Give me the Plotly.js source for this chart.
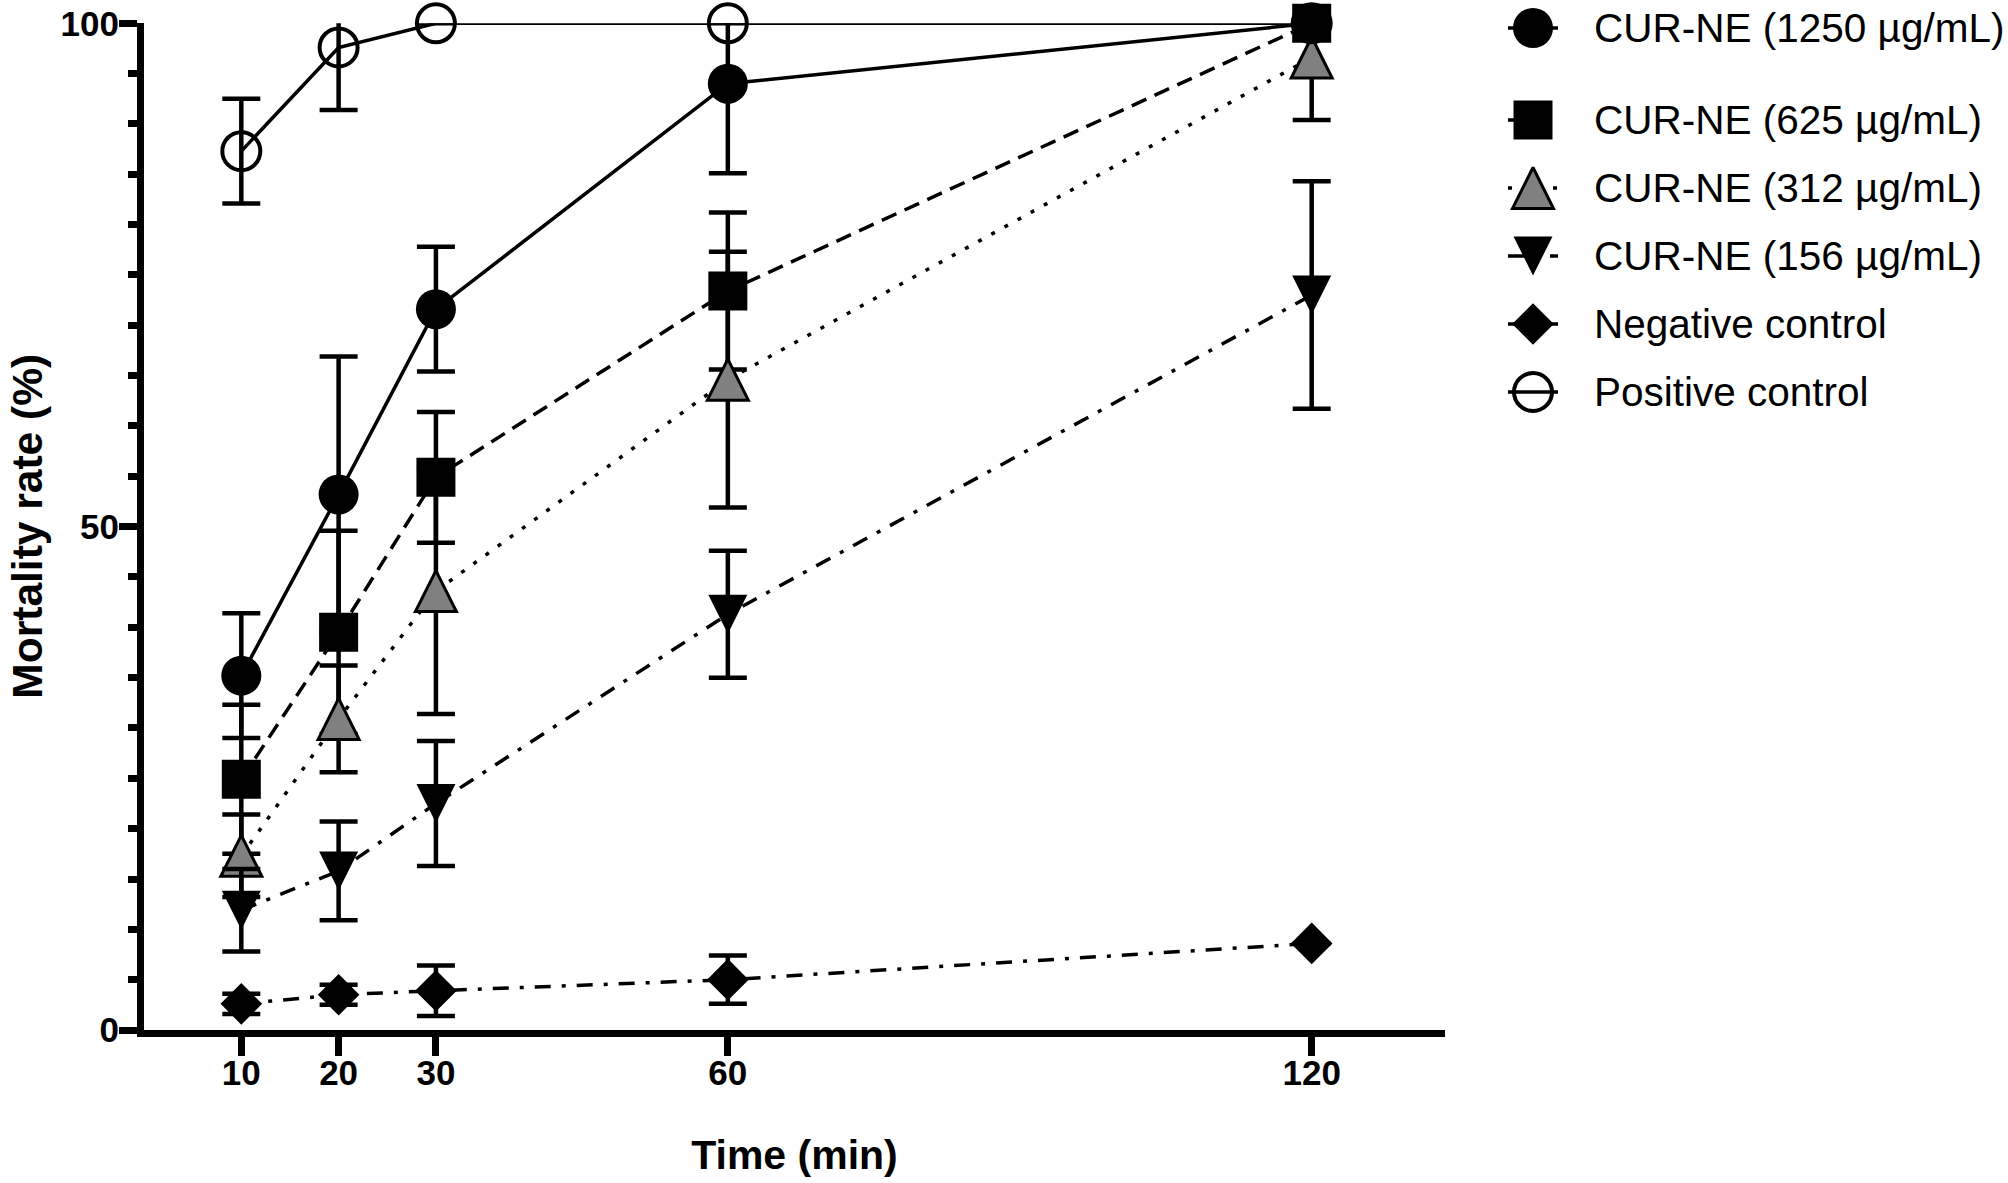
<!DOCTYPE html>
<html>
<head>
<meta charset="utf-8">
<script src="https://cdn.plot.ly/plotly-3.0.1.min.js"></script>
<style>
html, body { margin: 0; padding: 0; background: #ffffff; }
#chart { width: 2008px; height: 1183px; }
</style>
</head>
<body>
<div id="chart"></div>
<script>
// ---------------- data ----------------
const times = [10, 20, 30, 60, 120];
const timeTickLabels = ['10', '20', '30', '60', '120'];
const yTickValues = [0, 50, 100];

const xTitle = 'Time (min)';
const yTitle = 'Mortality rate (%)';

const seriesNames = [
  'CUR-NE (1250 µg/mL)',
  'CUR-NE (625 µg/mL)',
  'CUR-NE (312 µg/mL)',
  'CUR-NE (156 µg/mL)',
  'Negative control',
  'Positive control'
];

const cur1250Mean = [35.2, 53.2, 71.6, 94.0, 100];
const cur1250Sd   = [6.2, 13.7, 6.2, 8.9, null];
const cur625Mean  = [24.9, 39.5, 54.9, 73.4, 100];
const cur625Sd    = [7.4, 10.1, 6.5, 7.8, null];
const cur312Mean  = [17.3, 30.9, 43.6, 64.6, 96.6];
const cur312Sd    = [4.1, 5.3, 12.2, 12.7, 6.2];
const cur156Mean  = [11.9, 15.8, 22.5, 41.3, 73.0];
const cur156Sd    = [4.1, 4.9, 6.2, 6.3, 11.3];
const negMean     = [2.6, 3.5, 3.9, 5.0, 8.6];
const negSd       = [1.0, 1.0, 2.5, 2.4, null];
const posMean     = [87.3, 97.6, 100, 100, 100];
const posSd       = [5.2, 6.2, null, null, null];

// ---------------- styles ----------------
const FONT = 'Liberation Sans, Arial, Helvetica, sans-serif';
const BLACK = '#000000';
const LINE_W = 3.5;

// triangles are drawn with the 'arrow-down' symbol centred by a standoff of half its size
const styles = [
  { symbol: 'circle', size: 40, color: BLACK, lineColor: BLACK, lineWidth: 0, dash: 'solid' },
  { symbol: 'square', size: 39, color: BLACK, lineColor: BLACK, lineWidth: 0, dash: '16px,9px' },
  { symbol: 'arrow-down', size: 41, angle: 180, color: '#808080', lineColor: BLACK, lineWidth: 3, dash: '4px,11px' },
  { symbol: 'arrow-down', size: 39, angle: 0, color: BLACK, lineColor: BLACK, lineWidth: 0, dash: '16px,11px,4px,11px' },
  { symbol: 'diamond', size: 32, color: BLACK, lineColor: BLACK, lineWidth: 0, dash: '16px,11px,4px,11px' },
  { symbol: 'circle-open', size: 38, color: BLACK, lineColor: BLACK, lineWidth: 4, dash: 'solid' }
];

const means = [cur1250Mean, cur625Mean, cur312Mean, cur156Mean, negMean, posMean];
const sds = [cur1250Sd, cur625Sd, cur312Sd, cur156Sd, negSd, posSd];

function markerFor(st) {
  const m = {
    symbol: st.symbol,
    size: st.size,
    color: st.color,
    line: { color: st.lineColor, width: st.lineWidth }
  };
  if (st.symbol.indexOf('arrow') === 0) {
    m.angle = st.angle;
    m.standoff = st.size / 2;
  }
  return m;
}

// ---------------- geometry of the figure ----------------
const W = 2008, H = 1183;
const plotL = 144, plotR = 1445, plotT = 23.3, plotB = 1030;
const yTitleCenterX = 28;     // px from left edge
const legL = 1480;            // left edge of legend area (px)
const legRowPx = 68;          // px per legend row
const legFirstPx = 28;        // centre of first legend row (px from top)
const legBottomPx = 450;      // bottom of legend area (px from top)

const traces = [];

// plot traces: for each series a clipped line (+ error bars) and unclipped markers
seriesNames.forEach((name, i) => {
  const st = styles[i];
  traces.push({
    type: 'scatter', mode: 'lines', name: name,
    x: times, y: means[i],
    xaxis: 'x', yaxis: 'y',
    line: { color: BLACK, width: LINE_W, dash: st.dash },
    error_y: { type: 'data', array: sds[i], symmetric: true, visible: true,
               color: BLACK, thickness: 4.5, width: 19 },
    cliponaxis: true, hoverinfo: 'skip', showlegend: false
  });
  traces.push({
    type: 'scatter', mode: 'markers', name: name,
    x: times, y: means[i],
    xaxis: 'x', yaxis: 'y',
    marker: markerFor(st),
    cliponaxis: false, hoverinfo: 'skip', showlegend: false
  });
});

// custom legend drawn on a second (hidden) axis pair
const legendRows = seriesNames.map((_, i) => (i === 0 ? 0 : i + (92 / legRowPx - 1)));
const legMarkX = 53, legLineHalf = 25, legTextX = 112;
const annotations = [];
seriesNames.forEach((name, i) => {
  const st = styles[i];
  traces.push({
    type: 'scatter', mode: 'lines',
    x: [legMarkX - legLineHalf, legMarkX + legLineHalf], y: [legendRows[i], legendRows[i]],
    xaxis: 'x2', yaxis: 'y2',
    line: { color: BLACK, width: LINE_W, dash: st.dash },
    cliponaxis: false, hoverinfo: 'skip', showlegend: false
  });
  traces.push({
    type: 'scatter', mode: 'markers',
    x: [legMarkX], y: [legendRows[i]],
    xaxis: 'x2', yaxis: 'y2',
    marker: markerFor(st),
    cliponaxis: false, hoverinfo: 'skip', showlegend: false
  });
  annotations.push({
    xref: 'x2', yref: 'y2', x: legTextX, y: legendRows[i],
    text: name, showarrow: false, xanchor: 'left', yanchor: 'middle',
    font: { family: FONT, size: 40.5, color: BLACK }
  });
});

// y-axis title (placed as a rotated annotation for exact position)
annotations.push({
  xref: 'paper', yref: 'paper',
  x: yTitleCenterX / W, y: 1 - ((plotT + plotB) / 2) / H,
  text: yTitle, textangle: -90, showarrow: false,
  xanchor: 'center', yanchor: 'middle',
  font: { family: FONT, size: 42.5, color: BLACK, weight: 'bold' }
});

const legSpanRows = legBottomPx / legRowPx;
const legTopVal = -legFirstPx / legRowPx;

const layout = {
  width: W, height: H,
  margin: { l: 0, r: 0, t: 0, b: 0, pad: 0 },
  paper_bgcolor: '#ffffff', plot_bgcolor: '#ffffff',
  showlegend: false,
  font: { family: FONT, color: BLACK },
  xaxis: {
    domain: [plotL / W, plotR / W], anchor: 'y',
    range: [0, 133.7],
    tickmode: 'array', tickvals: times, ticktext: timeTickLabels,
    ticks: 'outside', ticklen: 19, tickwidth: 7, tickcolor: BLACK,
    showline: true, linewidth: 7, linecolor: BLACK,
    showgrid: false, zeroline: false, automargin: false, fixedrange: true,
    ticklabelstandoff: -13,
    tickfont: { family: FONT, size: 35, color: BLACK, weight: 'bold' },
    title: { text: xTitle,
             font: { family: FONT, size: 41, color: BLACK, weight: 'bold' } }
  },
  yaxis: {
    domain: [(H - plotB) / H, (H - plotT) / H], anchor: 'x',
    range: [0, 100],
    tickmode: 'array', tickvals: yTickValues,
    ticks: 'outside', ticklen: 18, tickwidth: 7, tickcolor: BLACK,
    minor: { dtick: 5, tick0: 0, ticks: 'outside', ticklen: 9, tickwidth: 7, tickcolor: BLACK, showgrid: false },
    showline: true, linewidth: 7, linecolor: BLACK,
    showgrid: false, zeroline: false, automargin: false, fixedrange: true,
    ticklabelstandoff: -7,
    tickfont: { family: FONT, size: 35, color: BLACK, weight: 'bold' }
  },
  xaxis2: {
    domain: [legL / W, 1], anchor: 'y2', range: [0, W - legL],
    visible: false, fixedrange: true
  },
  yaxis2: {
    domain: [(H - legBottomPx) / H, 1], anchor: 'x2',
    range: [legTopVal + legSpanRows, legTopVal],
    visible: false, fixedrange: true
  },
  annotations: annotations
};

Plotly.newPlot('chart', traces, layout, { staticPlot: true, displayModeBar: false });
</script>
</body>
</html>
